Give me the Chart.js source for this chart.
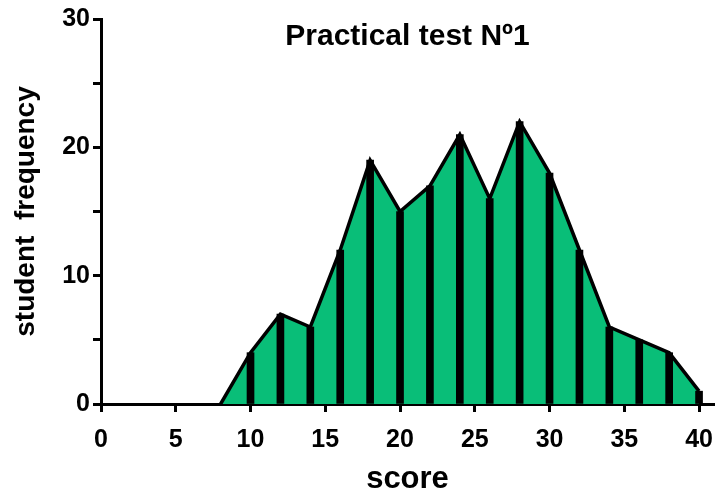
<!DOCTYPE html>
<html>
<head>
<meta charset="utf-8">
<script src="https://cdn.jsdelivr.net/npm/chart.js@4"></script>
<style>
   body { margin: 0; background: #fff; }
   #wrap { width: 716px; height: 498px; }
</style>
</head>
<body>
<div id="wrap"><canvas id="myChart"></canvas></div>
<script>
//Datos de la grafica

const scores = [8, 10, 12, 14, 16, 18, 20, 22, 24, 26, 28, 30, 32, 34, 36, 38, 40];
const frequency = [0, 4, 7, 6, 12, 19, 15, 17, 21, 16, 22, 18, 12, 6, 5, 4, 1];
const xTicks = [0, 5, 10, 15, 20, 25, 30, 35, 40];
const yTicks = [0, 10, 20, 30];

const titulo = 'Practical test Nº1';
const fuente = "'Liberation Sans', Arial, sans-serif";
const verde = '#09BE78';

const puntos = scores.map((s, i) => ({ x: s, y: frequency[i] }));
const barras = puntos.filter(p => p.y > 0);

//Titulo dentro del area de la grafica
const tituloPlugin = {
   id: 'tituloPlugin',
   afterDraw(chart) {
      const ctx = chart.ctx;
      const area = chart.chartArea;
      ctx.save();
      ctx.font = 'bold 30px ' + fuente;
      ctx.fillStyle = '#000';
      ctx.textAlign = 'center';
      ctx.textBaseline = 'middle';
      ctx.fillText(titulo, (area.left + area.right) / 2, 37);
      ctx.restore();
   }
};

const data = {
   datasets: [{
      type: 'line',
      data: puntos,
      backgroundColor: verde,
      borderColor: '#000',
      borderWidth: 3.5,
      pointRadius: 0,
      tension: 0,
      fill: 'origin',
      order: 2
   }, {
      type: 'bar',
      data: barras,
      backgroundColor: '#000',
      barThickness: 7,
      order: 1
   }]
};

const config = {
   type: 'bar',
   data: data,
   plugins: [tituloPlugin],
   options: {
      responsive: true,
      maintainAspectRatio: false,
      animation: false,
      layout: { padding: { top: 19, right: 2, left: 0, bottom: 0 } },
      plugins: {
         legend: { display: false },
         tooltip: { enabled: false }
      },
      scales: {
         x: {
            type: 'linear',
            min: 0,
            max: 41,
            offset: false,
            afterBuildTicks: (scale) => { scale.ticks = xTicks.map(v => ({ value: v })); },
            afterFit: (scale) => {
               scale.height = 94;
               scale.paddingRight = 0;
               scale.paddingLeft = 0;
            },
            border: { color: '#000', width: 3 },
            grid: { offset: false, drawOnChartArea: false, tickLength: 8, tickWidth: 3, tickColor: '#000' },
            ticks: { color: '#000', font: { family: fuente, size: 25, weight: 'bold' }, padding: 13, maxRotation: 0 },
            title: {
               display: true,
               text: 'score',
               color: '#000',
               font: { family: fuente, size: 31, weight: 'bold' },
               padding: { top: 0, bottom: 0 }
            }
         },
         y: {
            min: 0,
            max: 30,
            ticks: {
               stepSize: 5,
               color: '#000',
               font: { family: fuente, size: 25, weight: 'bold' },
               padding: 3,
               callback: (v) => yTicks.includes(v) ? v : ''
            },
            afterFit: (scale) => { scale.width = 101; },
            border: { color: '#000', width: 3 },
            grid: { drawOnChartArea: false, tickLength: 8, tickWidth: 3, tickColor: '#000' },
            title: {
               display: true,
               text: 'student  frequency',
               color: '#000',
               font: { family: fuente, size: 28, weight: 'bold' },
               padding: { top: 9, bottom: 0 }
            }
         }
      }
   }
};

const myChart = new Chart(document.getElementById('myChart'), config);
</script>
</body>
</html>
